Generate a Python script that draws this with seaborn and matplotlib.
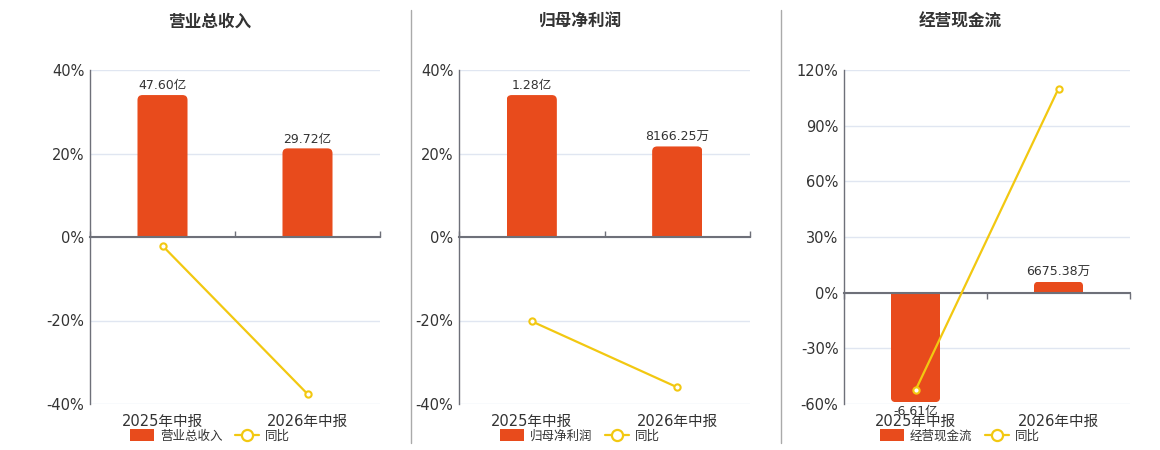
import numpy as np
import seaborn as sns
import matplotlib.pyplot as plt
from matplotlib.lines import Line2D
from matplotlib.patches import Patch, FancyBboxPatch, Rectangle
from matplotlib.ticker import FixedLocator

sns.set_theme(style="white")
plt.rcParams['font.family'] = ['DejaVu Sans', 'Noto Sans CJK SC']

# data
periods = ['2025年中报', '2026年中报']
titles = ['营业总收入', '归母净利润', '经营现金流']
bar_names = ['营业总收入', '归母净利润', '经营现金流']

revenue = [47.60, 29.72]          # 亿
net_profit = [1.28, 0.816625]     # 亿
cash_flow = [-6.61, 0.667538]     # 亿
bar_values = [revenue, net_profit, cash_flow]

revenue_lbl = ['47.60亿', '29.72亿']
net_profit_lbl = ['1.28亿', '8166.25万']
cash_flow_lbl = ['-6.61亿', '6675.38万']
bar_labels = [revenue_lbl, net_profit_lbl, cash_flow_lbl]

revenue_yoy = [-2.1, -37.6]       # %
net_profit_yoy = [-20.2, -36.0]
cash_flow_yoy = [-52.6, 110.0]
yoy_values = [revenue_yoy, net_profit_yoy, cash_flow_yoy]

pct_ticks = [[-40, -20, 0, 20, 40],
             [-40, -20, 0, 20, 40],
             [-60, -30, 0, 30, 60, 90, 120]]
bar_limits = [(-56, 56), (-1.506, 1.506), (-6.72, 13.44)]

BAR = '#E84B1C'
LINE = '#F2C811'
AXIS = '#6E7079'
GRID = '#E0E6F1'
TXT = '#333333'

fig = plt.figure(figsize=(11.6, 4.5), dpi=100)
W, H = 1160, 450

# axes boxes in pixels: left, right
boxes = [(90, 380), (459, 750), (844, 1130)]
centers = [210, 580, 960]
top_px, bot_px = 70, 404


def round_bars(ax, radius_px=5):
    # give the bars rounded corners at their far end, like the original
    p0 = ax.transData.transform((0, 0))
    p1 = ax.transData.transform((1, 1))
    xpp = 1 / (p1[0] - p0[0])
    ypp = 1 / (p1[1] - p0[1])
    ry = radius_px * ypp
    for rect in ax.containers[0]:
        x, w = rect.get_x(), rect.get_width()
        y, h = rect.get_y(), rect.get_height()
        y0, y1 = min(y, y + h), max(y, y + h)
        if y + h >= 0:
            by, bh = y0 - ry, (y1 - y0) + ry
        else:
            by, bh = y0, (y1 - y0) + ry
        box = FancyBboxPatch((x, by), w, bh,
                             boxstyle=f"round,pad=0,rounding_size={radius_px * xpp}",
                             mutation_aspect=ypp / xpp, fc=BAR, ec='none', zorder=3)
        ax.add_patch(box)
        box.set_clip_path(Rectangle((x, y0), w, y1 - y0, transform=ax.transData))
        rect.set_visible(False)


for i in range(3):
    l, r = boxes[i]
    ax = fig.add_axes([l / W, 1 - bot_px / H, (r - l) / W, (bot_px - top_px) / H])
    ax2 = ax.twinx()
    ax.set_zorder(ax2.get_zorder() + 1)
    ax.patch.set_visible(False)

    ticks = pct_ticks[i]
    lo, hi = ticks[0], ticks[-1]
    blo, bhi = bar_limits[i]

    # bars on the twin axis
    sns.barplot(x=periods, y=bar_values[i], color=BAR, saturation=1,
                width=0.345, ax=ax2, zorder=3)
    ax2.set_ylim(blo, bhi)
    ax2.set_xlim(-0.5, 1.5)
    frac = [(t - lo) / (hi - lo) for t in ticks]
    ax2.yaxis.set_major_locator(FixedLocator([blo + f * (bhi - blo) for f in frac]))
    ax2.grid(True, axis='y', color=GRID, linewidth=1, zorder=0)
    ax2.set_axisbelow(True)
    ax2.tick_params(right=False, labelright=False, bottom=False, labelbottom=False)
    ax2.set_xlabel('')
    ax2.set_ylabel('')
    for s in ax2.spines.values():
        s.set_visible(False)
    ax2.bar_label(ax2.containers[0], labels=bar_labels[i], padding=2,
                  fontsize=9, color=TXT)
    round_bars(ax2)

    # yoy line on the main axis
    sns.lineplot(x=np.arange(len(periods)), y=yoy_values[i], ax=ax, color=LINE,
                 linewidth=1.6, marker='o', markersize=4.5, markerfacecolor='white',
                 markeredgecolor=LINE, markeredgewidth=1.5, zorder=5)
    ax.set_ylim(lo, hi)
    ax.set_yticks(ticks)
    ax.set_yticklabels([f'{t}%' for t in ticks], fontsize=10.5, color=TXT)
    ax.set_xlim(-0.5, 1.5)
    ax.set_xticks(np.arange(len(periods)))
    ax.set_xticklabels(periods, fontsize=10.5, color=TXT)
    ax.tick_params(axis='x', length=0, pad=7)
    ax.tick_params(axis='y', length=0, pad=4)
    ax.grid(False)
    for s in ['top', 'right', 'bottom']:
        ax.spines[s].set_visible(False)
    ax.spines['left'].set_color(AXIS)
    ax.spines['left'].set_linewidth(1)

    # category axis line at zero
    zero_frac = (0 - lo) / (hi - lo)
    sec = ax.secondary_xaxis(zero_frac)
    sec.set_xticks([-0.5, 0.5, 1.5])
    sec.set_xticklabels([])
    sec.tick_params(axis='x', direction='out', length=4, color=AXIS, width=1,
                    labelbottom=False, labeltop=False)
    for s in sec.spines.values():
        s.set_color(AXIS)
        s.set_linewidth(1.5)

    fig.text(centers[i] / W, 1 - 22 / H, titles[i], ha='center', va='center',
             fontsize=12, fontweight='bold', color=TXT)

    handles = [Patch(facecolor=BAR, edgecolor='none', label=bar_names[i]),
               Line2D([0], [0], color=LINE, linewidth=1.6, marker='o', markersize=8,
                      markerfacecolor='white', markeredgecolor=LINE,
                      markeredgewidth=1.6, label='同比')]
    fig.legend(handles=handles, loc='center', ncol=2, frameon=False,
               bbox_to_anchor=(centers[i] / W, 1 - 436 / H), fontsize=9,
               handlelength=1.9, handleheight=1.1, columnspacing=1.0,
               handletextpad=0.5, labelcolor=TXT)

# dividers between panels
for x in [411, 781]:
    fig.add_artist(Line2D([x / W, x / W], [1 - 10 / H, 1 - 443 / H],
                          color='#AAAAAA', linewidth=1))

fig.savefig('out.png', dpi=100)
